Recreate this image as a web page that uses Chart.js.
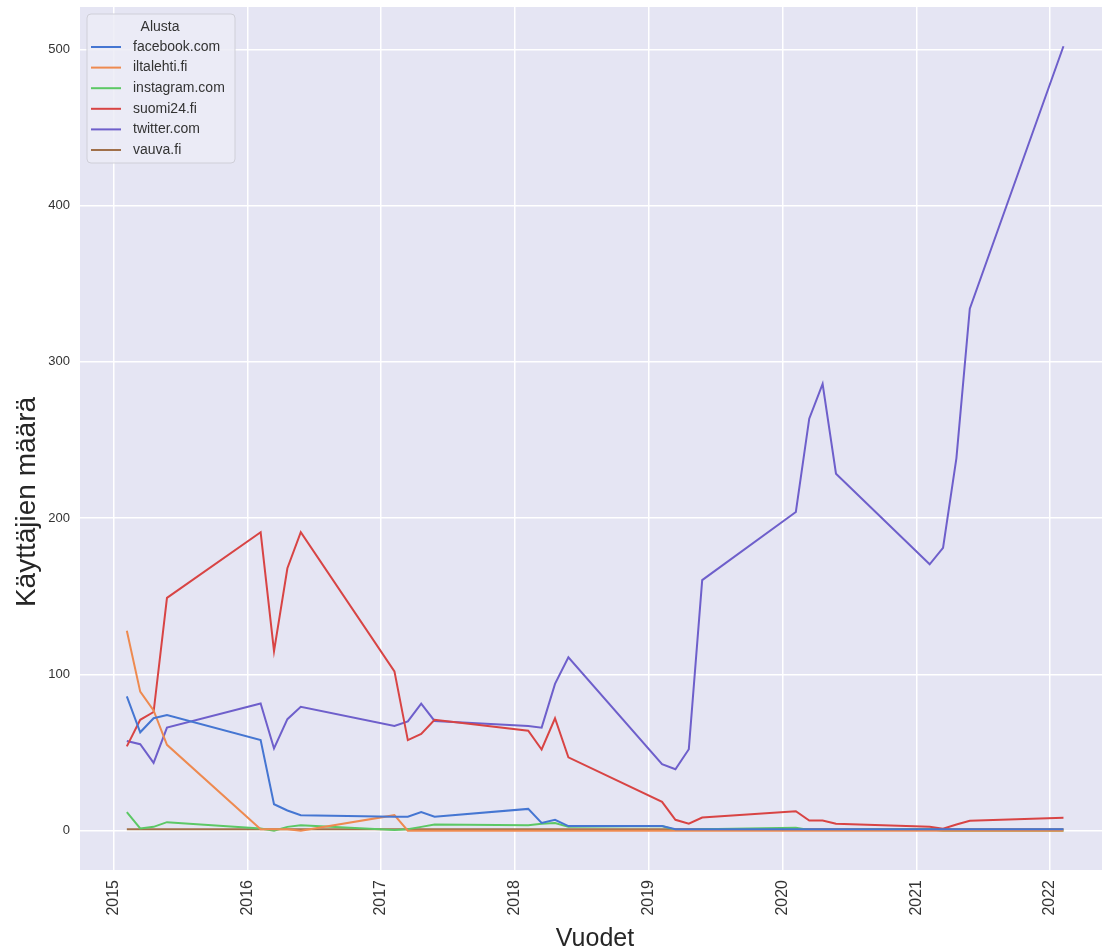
<!DOCTYPE html>
<html>
<head>
<meta charset="utf-8">
<script src="https://cdn.jsdelivr.net/npm/chart.js@4.4.1/dist/chart.umd.min.js"></script>
<style>
  html, body { margin: 0; padding: 0; background: #ffffff; }
  #wrap { width: 1102px; height: 950px; }
</style>
</head>
<body>
<div id="wrap"><canvas id="usersChart" width="1102" height="950"></canvas></div>
<script>
//--DATA-----------------------------------------------------------------------------------------
let periods = [
  2015.1, 2015.2, 2015.3, 2015.4,
  2016.1, 2016.2, 2016.3, 2016.4,
  2017.1, 2017.2, 2017.3, 2017.4,
  2018.1, 2018.2, 2018.3, 2018.4,
  2019.1, 2019.2, 2019.3, 2019.4,
  2020.1, 2020.2, 2020.3, 2020.4,
  2021.1, 2021.2, 2021.3, 2021.4,
  2022.1,
];

let platforms = ["facebook.com", "iltalehti.fi", "instagram.com", "suomi24.fi", "twitter.com", "vauva.fi"];

let facebookUsers = [86, 63, 72, 74, 58, 17, 13, 10, 9, 9, 12, 9, 14, 5, 7, 3, 3, 1, 1, 1, 1, 1, 1, 1, 1, 1, 1, 1, 1];
let iltalehtiUsers = [128, 89, 77, 55, 1, 1, 1, 0, 10, 0, 0, 0, 0, 0, 0, 0, 0, 0, 0, 0, 0, 0, 0, 0, 0, 0, 0, 0, 0];
let instagramUsers = [12, 1.5, 2.5, 5.5, 1.5, 0, 2.5, 3.5, 0.5, 1, 2.5, 4, 3.5, 4.5, 5, 2.5, 3, 0.5, 0.5, 1, 2, 0.5, 0.5, 0.5, 1, 0, 0, 0, 0];
let suomi24Users = [54, 71, 76, 149, 191, 115, 168, 191, 102, 58, 62, 71, 64, 52, 72, 47, 18.5, 7, 4.5, 8.5, 12.5, 6.5, 6.5, 4.5, 2.5, 1.3, 4, 6.4, 8.3];
let twitterUsers = [57.5, 55.4, 43.5, 66, 81.4, 52.7, 71.4, 79.3, 67, 70, 81.4, 70.3, 67, 66, 94, 111, 42.6, 39.4, 52.2, 160.4, 204, 263.7, 286, 228.5, 170.5, 181, 238.5, 334, 502];
let vauvaUsers = [1, 1, 1, 1, 1, 1, 1, 1, 1, 1, 1, 1, 1, 1, 1, 1, 1, 1, 1, 1, 1, 1, 1, 1, 1, 1, 1, 1, 1];

let yearTicks = [2015, 2016, 2017, 2018, 2019, 2020, 2021, 2022];
let countTicks = [0, 100, 200, 300, 400, 500];
//-----------------------------------------------------------------------------------------------

let lineColors = ["#4576d2", "#ee8a50", "#5cc865", "#d84444", "#6e5fcb", "#a0704a"];
let fontFamily = "'Liberation Sans', Arial, sans-serif";
let textColor = "#333333";

function buildDatasets() {
  let seriesList = [facebookUsers, iltalehtiUsers, instagramUsers, suomi24Users, twitterUsers, vauvaUsers];
  let datasets = [];
  for (let i = 0; i < platforms.length; i++) {
    let points = [];
    for (let j = 0; j < periods.length; j++) {
      points.push({ x: periods[j], y: seriesList[i][j] });
    }
    datasets.push({
      label: platforms[i],
      data: points,
      borderColor: lineColors[i],
      backgroundColor: lineColors[i],
      borderWidth: 2,
      pointRadius: 0,
      tension: 0,
    });
  }
  return datasets;
}

//--PLUGINS--------------------------------------------------------------------------------------
let plotBackground = {
  id: "plotBackground",
  beforeDraw(chart) {
    let { ctx, chartArea } = chart;
    ctx.save();
    ctx.fillStyle = "#e5e5f3";
    ctx.fillRect(chartArea.left, chartArea.top, chartArea.right - chartArea.left, chartArea.bottom - chartArea.top);
    ctx.restore();
  },
};

let insideLegend = {
  id: "insideLegend",
  afterDatasetsDraw(chart) {
    let { ctx, chartArea } = chart;
    let boxX = chartArea.left + 7;
    let boxY = chartArea.top + 7;
    let boxW = 148;
    let boxH = 149;
    ctx.save();
    ctx.beginPath();
    ctx.roundRect(boxX, boxY, boxW, boxH, 4);
    ctx.fillStyle = "rgba(236, 236, 246, 0.85)";
    ctx.fill();
    ctx.strokeStyle = "#cfcfd8";
    ctx.lineWidth = 1;
    ctx.stroke();

    ctx.fillStyle = textColor;
    ctx.font = "14px " + fontFamily;
    ctx.textAlign = "center";
    ctx.textBaseline = "middle";
    ctx.fillText("Alusta", boxX + 73, boxY + 13);

    ctx.textAlign = "left";
    chart.data.datasets.forEach((ds, i) => {
      let rowY = boxY + 33 + i * 20.6;
      ctx.strokeStyle = ds.borderColor;
      ctx.lineWidth = 2;
      ctx.beginPath();
      ctx.moveTo(boxX + 4, rowY);
      ctx.lineTo(boxX + 34, rowY);
      ctx.stroke();
      ctx.fillStyle = textColor;
      ctx.fillText(ds.label, boxX + 46, rowY);
    });
    ctx.restore();
  },
};

let axisTitles = {
  id: "axisTitles",
  afterDraw(chart) {
    let { ctx } = chart;
    ctx.save();
    ctx.fillStyle = "#262626";
    ctx.font = "25px " + fontFamily;
    ctx.textAlign = "center";
    ctx.textBaseline = "middle";
    ctx.fillText("Vuodet", 595, 939);
    ctx.font = "28px " + fontFamily;
    ctx.translate(27, 502);
    ctx.rotate(-Math.PI / 2);
    ctx.fillText("Käyttäjien määrä", 0, 0);
    ctx.restore();
  },
};
//-----------------------------------------------------------------------------------------------

//--DRAW CHART-----------------------------------------------------------------------------------
function drawChart() {
  let ctx = document.getElementById("usersChart").getContext("2d");
  let usersChart = new Chart(ctx, {
    type: "line",
    data: { datasets: buildDatasets() },
    options: {
      responsive: false,
      animation: false,
      devicePixelRatio: 1,
      layout: { padding: { top: 7, right: 0, bottom: 0, left: 0 } },
      plugins: {
        legend: { display: false },
        tooltip: { enabled: false },
      },
      scales: {
        x: {
          type: "linear",
          min: 2014.75,
          max: 2022.388,
          afterBuildTicks: (scale) => {
            scale.ticks = yearTicks.map((v) => ({ value: v }));
          },
          afterFit: (scale) => {
            scale.height = 80;
            scale.paddingLeft = 0;
            scale.paddingRight = 0;
          },
          grid: { color: "#ffffff", lineWidth: 1.5, drawTicks: false },
          border: { display: false },
          ticks: {
            color: textColor,
            font: { family: fontFamily, size: 16 },
            padding: 10,
            minRotation: 90,
            maxRotation: 90,
            autoSkip: false,
            callback: (value) => String(value),
          },
        },
        y: {
          type: "linear",
          min: -25.1,
          max: 527.1,
          afterBuildTicks: (scale) => {
            scale.ticks = countTicks.map((v) => ({ value: v }));
          },
          afterFit: (scale) => {
            scale.width = 80;
            scale.paddingTop = 0;
            scale.paddingBottom = 0;
          },
          grid: { color: "#ffffff", lineWidth: 1.5, drawTicks: false },
          border: { display: false },
          ticks: {
            color: textColor,
            font: { family: fontFamily, size: 13 },
            padding: 10,
            callback: (value) => String(value),
          },
        },
      },
    },
    plugins: [plotBackground, insideLegend, axisTitles],
  });
}

drawChart();
</script>
</body>
</html>
